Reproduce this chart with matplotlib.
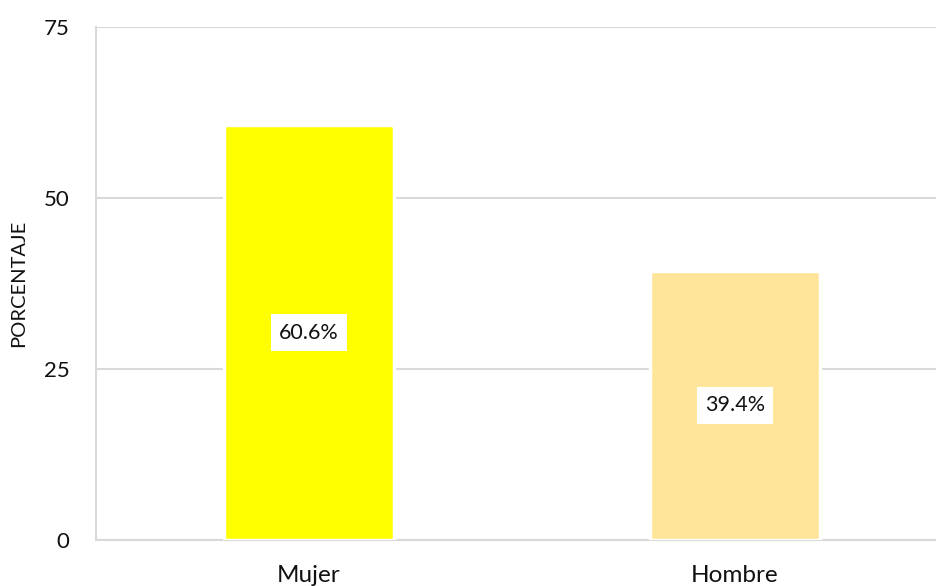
import matplotlib
matplotlib.use("Agg")
import matplotlib.pyplot as plt

categories = ["Mujer", "Hombre"]
values = [60.6, 39.4]
colors = ["#FFFF00", "#FFE599"]
yticks = [0, 25, 50, 75]

plt.rcParams['font.family'] = ['Lato', 'DejaVu Sans']

fig = plt.figure(figsize=(9.36, 5.86), dpi=100)
ax = fig.add_axes([96/936, 46/586, 852/936, 513/586])

x = list(range(len(categories)))
bars = ax.bar(x, values, width=0.40, color=colors, edgecolor="white", linewidth=2.5, zorder=3)
for xi, v in zip(x, values):
    ax.text(xi, v/2, f"{v:.1f}%", ha="center", va="center", fontsize=15.5, color="#111111",
            bbox=dict(facecolor="white", edgecolor="none", pad=6), zorder=4)

ax.set_xlim(-0.5, 1.5)
ax.set_ylim(0, 75)
ax.set_yticks(yticks)
ax.set_xticks(x)
ax.set_xticklabels(categories)
ax.tick_params(axis="both", length=0, colors="#111111")
ax.tick_params(axis="y", pad=19, labelsize=16)
ax.tick_params(axis="x", pad=18, labelsize=17.5)
ax.grid(axis="y", color="#D9D9D9", linewidth=1.5, zorder=0)
for s in ["top", "right"]:
    ax.spines[s].set_visible(False)
ax.spines["left"].set_color("#D9D9D9")
ax.spines["left"].set_linewidth(1.5)
ax.spines["bottom"].set_color("#D9D9D9")
ax.spines["bottom"].set_linewidth(1.5)
ax.set_ylabel("PORCENTAJE", fontsize=14.5, labelpad=12, color="#111111")

fig.savefig("out.png", dpi=100)
